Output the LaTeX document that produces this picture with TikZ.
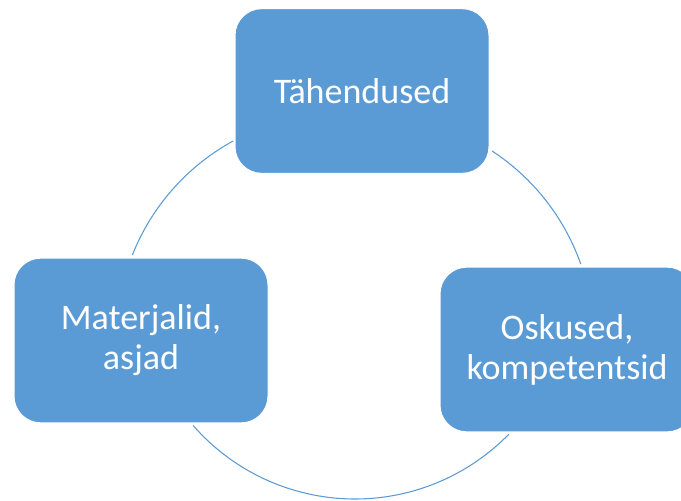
\documentclass[tikz,border=0pt]{standalone}
\usepackage{fontspec}
\setmainfont{Carlito}
\definecolor{accblue}{HTML}{5B9BD5}
\begin{document}
\begin{tikzpicture}[x=0.75pt,y=-0.75pt,
  cyclebox/.style={rectangle, rounded corners=20pt, fill=accblue, draw=white,
    line width=0.75pt, minimum width=190.5pt, minimum height=123.5pt,
    inner sep=0pt, align=center, text=white,
    font=\fontsize{27}{30}\selectfont},
  cyclearc/.style={draw=accblue, line width=0.8pt}]
\clip (0,0) rectangle (681,500);
% arc centres
\coordinate (cL) at (340.6,337.5);
\coordinate (cR) at (369.5,338.5);
\coordinate (cB) at (355,284);
% connectors
\draw[cyclearc] ([shift={(201.6:224)}]cL) arc[start angle=201.6, end angle=241.3, radius=224];
\draw[cyclearc] ([shift={(303.2:224)}]cR) arc[start angle=303.2, end angle=340.6, radius=224];
\draw[cyclearc] ([shift={(138.85:215)}]cB) arc[start angle=138.85, end angle=44.3, radius=215];
% boxes
\node[cyclebox] (tah) at (362,91) {Tähendused};
\node[cyclebox] (mat) at (141,340.5) {Materjalid,\\asjad};
\node[cyclebox] (osk) at (567,349.5) {Oskused,\\kompetentsid};
\end{tikzpicture}
\end{document}
